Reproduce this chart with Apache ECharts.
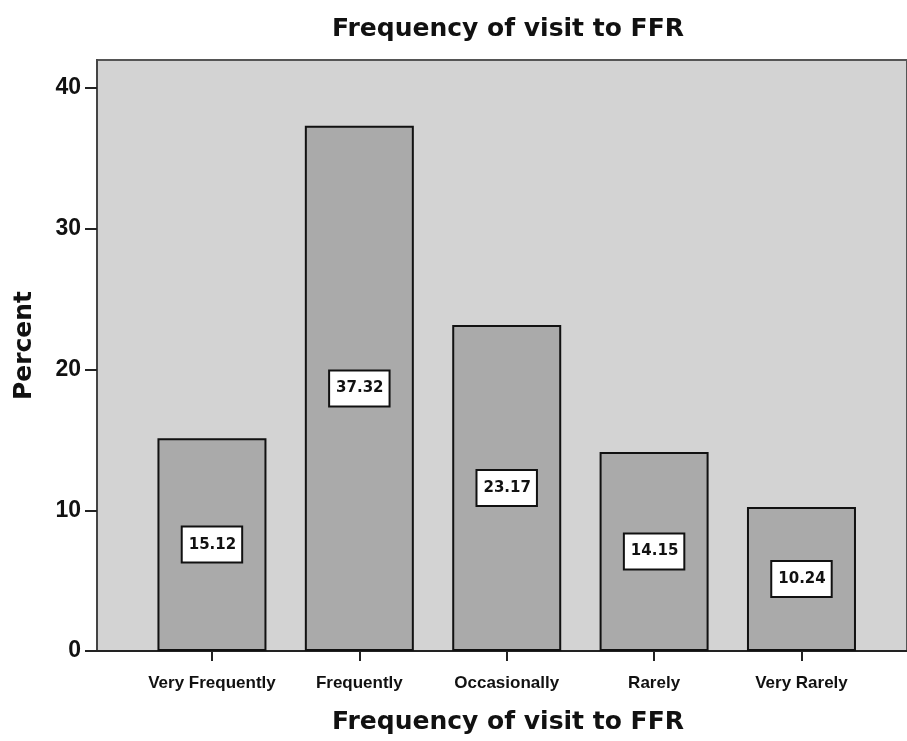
<!DOCTYPE html>
<html>
<head>
<meta charset="utf-8">
<script src="https://cdn.jsdelivr.net/npm/echarts@6/dist/echarts.min.js"></script>
<style>
  html, body { margin: 0; padding: 0; background: #ffffff; }
  #chart { width: 907px; height: 741px; }
</style>
</head>
<body>
<div id="chart"></div>
<script>
// Survey responses: how often respondents visit FFR (percent of sample)
const categories = ['Very Frequently', 'Frequently', 'Occasionally', 'Rarely', 'Very Rarely'];
const percents = [15.12, 37.32, 23.17, 14.15, 10.24];
const yTicks = [0, 10, 20, 30, 40];
const categoryIndex = categories.map((_, i) => i);

const chart = echarts.init(document.getElementById('chart'));

const wideBold = '"DejaVu Sans", Verdana, sans-serif';
const plainBold = '"Liberation Sans", Arial, sans-serif';

chart.setOption({
  animation: false,
  title: {
    text: 'Frequency of visit to FFR',
    left: 503,
    top: 12,
    textAlign: 'center',
    textStyle: { fontFamily: wideBold, fontWeight: 'bold', fontSize: 25, color: '#111' }
  },
  grid: {
    left: 97, right: -6, top: 60, bottom: 90,
    show: true,
    backgroundColor: '#d3d3d3',
    borderColor: '#555',
    borderWidth: 2
  },
  xAxis: {
    type: 'value',
    min: -0.78,
    max: 4.716,
    splitLine: { show: false },
    axisLine: { show: true, onZero: false, lineStyle: { color: '#222', width: 2 } },
    axisTick: { show: true, customValues: categoryIndex, length: 10, lineStyle: { color: '#222', width: 2 } },
    axisLabel: {
      customValues: categoryIndex,
      formatter: v => categories[Math.round(v)] || '',
      margin: 24,
      fontFamily: plainBold,
      fontWeight: 'bold',
      fontSize: 17,
      color: '#111'
    },
    name: 'Frequency of visit to FFR',
    nameLocation: 'middle',
    nameGap: 59,
    nameTextStyle: { fontFamily: wideBold, fontWeight: 'bold', fontSize: 25, color: '#111', padding: [0, 0, 0, 12] }
  },
  yAxis: {
    type: 'value',
    min: 0,
    max: 42,
    interval: 10,
    splitLine: { show: false },
    axisLine: { show: true, onZero: false, lineStyle: { color: '#444', width: 2 } },
    axisTick: { show: true, customValues: yTicks, length: 12, lineStyle: { color: '#222', width: 2 } },
    axisLabel: {
      customValues: yTicks,
      margin: 16,
      fontFamily: plainBold,
      fontWeight: 'bold',
      fontSize: 23,
      color: '#111'
    },
    name: 'Percent',
    nameLocation: 'middle',
    nameGap: 60,
    nameRotate: 90,
    nameTextStyle: { fontFamily: wideBold, fontWeight: 'bold', fontSize: 25, color: '#111', padding: [0, 0, 0, 20] }
  },
  series: [{
    type: 'bar',
    data: percents.map((p, i) => [i, p]),
    barWidth: 109,
    itemStyle: { color: '#aaaaaa', borderColor: '#111', borderWidth: 2 },
    label: {
      show: true,
      position: 'inside',
      formatter: p => p.value[1].toFixed(2),
      fontFamily: wideBold,
      fontWeight: 'bold',
      fontSize: 15,
      color: '#111',
      backgroundColor: '#ffffff',
      borderColor: '#111',
      borderWidth: 2,
      padding: [10, 5, 9, 6]
    }
  }]
});
</script>
</body>
</html>
